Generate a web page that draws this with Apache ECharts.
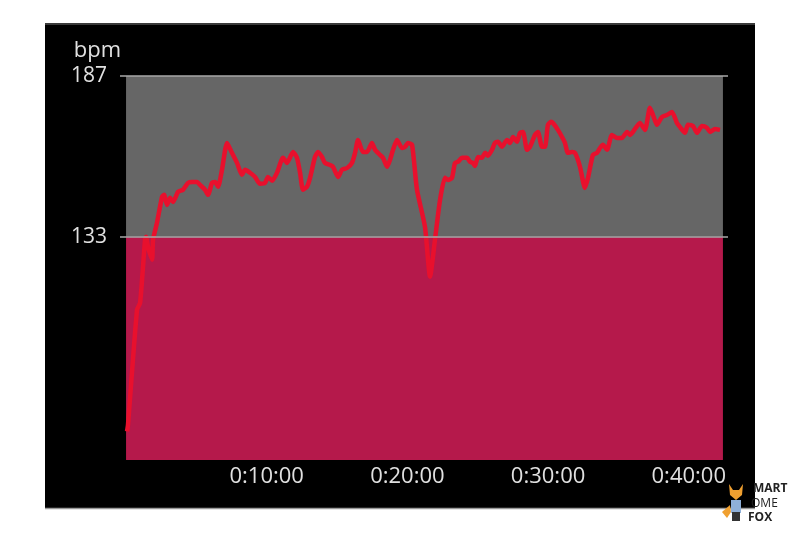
<!DOCTYPE html>
<html>
<head>
<meta charset="utf-8">
<script src="https://cdn.jsdelivr.net/npm/echarts@6/dist/echarts.min.js"></script>
<style>html,body{margin:0;padding:0;background:#fff;}#c{width:800px;height:533px;}</style>
</head>
<body>
<div id="c"></div>
<script>
// elapsed time in minutes
const timeMin = [0.07,0.14,0.78,1.0,1.35,1.42,1.56,1.85,1.92,2.2,2.56,2.7,2.91,3.13,3.34,3.7,4.05,4.41,4.69,5.05,5.26,5.61,5.83,6.11,6.33,6.54,6.82,7.18,7.53,7.89,8.24,8.46,8.81,9.17,9.52,9.88,10.09,10.38,10.73,11.16,11.44,11.87,12.15,12.37,12.58,12.86,13.08,13.43,13.65,13.93,14.14,14.5,14.71,15.07,15.35,15.71,16.06,16.28,16.49,16.84,17.13,17.48,17.7,18.05,18.27,18.55,18.76,18.98,19.26,19.62,19.83,20.04,20.33,20.68,21.25,21.61,21.96,22.32,22.67,22.89,23.17,23.38,23.6,23.88,24.24,24.45,24.66,24.8,25.02,25.3,25.52,25.73,26.01,26.23,26.44,26.72,27.08,27.29,27.51,27.79,28.0,28.22,28.5,28.71,29.07,29.28,29.57,29.78,29.99,30.21,30.35,30.7,30.99,31.2,31.41,31.7,31.91,32.27,32.62,32.84,33.19,33.48,33.69,33.9,34.19,34.54,34.9,35.25,35.61,35.82,36.03,36.53,36.89,37.24,37.46,37.74,38.09,38.45,38.81,39.16,39.37,39.73,39.94,40.3,40.58,40.94,41.29,41.51,41.86,42.22];
const heartRate = [67.6,69.9,108.5,110.8,132.0,133.0,129.6,125.3,132.0,137.7,146.4,147.1,143.7,146.1,144.7,148.1,148.8,151.1,151.4,151.4,150.4,148.8,147.1,151.1,151.4,149.8,155.5,164.5,161.2,157.8,153.8,155.5,154.5,153.1,150.8,151.1,153.1,151.8,154.5,159.5,157.8,161.5,159.5,154.5,148.8,149.8,152.8,159.8,161.5,159.8,157.8,157.1,156.5,153.1,155.5,156.1,157.8,161.2,165.5,161.5,161.5,164.5,162.2,160.5,159.5,156.5,158.8,162.2,165.5,162.8,163.2,164.5,163.9,148.8,136.3,119.6,132.0,145.4,152.8,152.1,152.8,157.8,158.2,159.5,159.5,158.2,157.8,156.8,159.8,159.5,161.2,160.2,162.2,164.5,164.9,163.2,165.5,164.5,166.5,164.9,167.9,168.2,162.2,163.2,167.2,168.2,163.2,163.2,170.6,171.6,171.2,168.9,166.5,164.5,161.2,161.5,161.2,156.5,149.4,152.8,160.5,161.2,162.8,163.9,162.2,167.2,166.2,166.2,168.2,167.2,168.2,171.2,168.9,176.3,173.9,170.6,173.2,173.9,174.9,171.2,169.9,167.9,170.6,170.2,167.9,170.2,169.6,168.2,169.2,168.9];
const xTicks = [10, 20, 30, 40];          // minutes
const zoneLevels = [133, 187];            // bpm labels / grid lines
const yMin = 58, yMax = 187, xEnd = 42.43;

function fmtTime(m) {
  const s = Math.round(m * 60);
  const h = Math.floor(s / 3600), mm = Math.floor((s % 3600) / 60), ss = s % 60;
  return h + ':' + String(mm).padStart(2, '0') + ':' + String(ss).padStart(2, '0');
}

const chart = echarts.init(document.getElementById('c'));
const font = 'Open Sans';
chart.setOption({
  backgroundColor: '#ffffff',
  animation: false,
  graphic: [
    { type: 'rect', z: -10, shape: { x: 45, y: 23, width: 710, height: 485 }, style: { fill: '#000' } },
    { type: 'line', z: -9, shape: { x1: 45, y1: 24, x2: 755, y2: 24 }, style: { stroke: '#3a3a3a', lineWidth: 2 } },
    { type: 'line', z: -9, shape: { x1: 45, y1: 508.5, x2: 755, y2: 508.5 }, style: { stroke: '#9a9a9a', lineWidth: 1.5 } },
    { type: 'text', left: 753, top: 483, style: { text: 'MART', font: 'bold 12px "Open Sans"', fill: '#222' } },
    { type: 'text', left: 751, top: 498, style: { text: 'OME', font: '12px "Open Sans"', fill: '#222' } },
    { type: 'text', left: 748, top: 512, style: { text: 'FOX', font: 'bold 12px "Open Sans"', fill: '#222' } },
    { type: 'polygon', shape: { points: [[729,484],[733,490],[739,490],[743,484],[742,495],[736,500],[730,495]] }, style: { fill: '#f0a030' } },
    { type: 'rect', shape: { x: 731, y: 500, width: 10, height: 13 }, style: { fill: '#8fb0d8' } },
    { type: 'rect', shape: { x: 732, y: 512, width: 8, height: 9 }, style: { fill: '#333' } },
    { type: 'polygon', shape: { points: [[730,505],[722,512],[727,518],[731,512]] }, style: { fill: '#f0a030' } }
  ],
  grid: { left: 120, right: 72, top: 76, bottom: 73 },
  xAxis: {
    type: 'value', min: -0.43, max: 42.79,
    axisLine: { show: false }, axisTick: { show: false }, splitLine: { show: false },
    axisLabel: { customValues: xTicks, formatter: fmtTime, color: '#e0e0e0', fontSize: 22, fontFamily: font, margin: 6 }
  },
  yAxis: {
    type: 'value', min: yMin, max: yMax,
    name: 'bpm', nameLocation: 'end', nameGap: 14,
    nameTextStyle: { color: '#e0e0e0', fontSize: 22, fontFamily: font, align: 'right', padding: [0, 5, 0, 0] },
    axisLine: { show: false }, axisTick: { show: false }, splitLine: { show: false },
    axisLabel: { customValues: zoneLevels, color: '#e0e0e0', fontSize: 21, fontFamily: font, margin: 13 }
  },
  series: [
    {
      type: 'line', data: [], silent: true,
      markArea: {
        silent: true,
        data: [
          [{ xAxis: 0, yAxis: yMin, itemStyle: { color: '#b5194b' } }, { xAxis: xEnd, yAxis: zoneLevels[0] }],
          [{ xAxis: 0, yAxis: zoneLevels[0], itemStyle: { color: '#666666' } }, { xAxis: xEnd, yAxis: zoneLevels[1] }]
        ]
      },
      markLine: {
        silent: true, symbol: 'none', label: { show: false },
        lineStyle: { color: '#a8a8a8', width: 1.5, type: 'solid' },
        data: zoneLevels.map(v => ({ yAxis: v }))
      }
    },
    {
      type: 'line', showSymbol: false, smooth: 0.2,
      data: timeMin.map((t, i) => [t, heartRate[i]]),
      lineStyle: { color: '#e8102d', width: 4.5 },
      itemStyle: { color: '#e8102d' }
    }
  ]
});
</script>
</body>
</html>
